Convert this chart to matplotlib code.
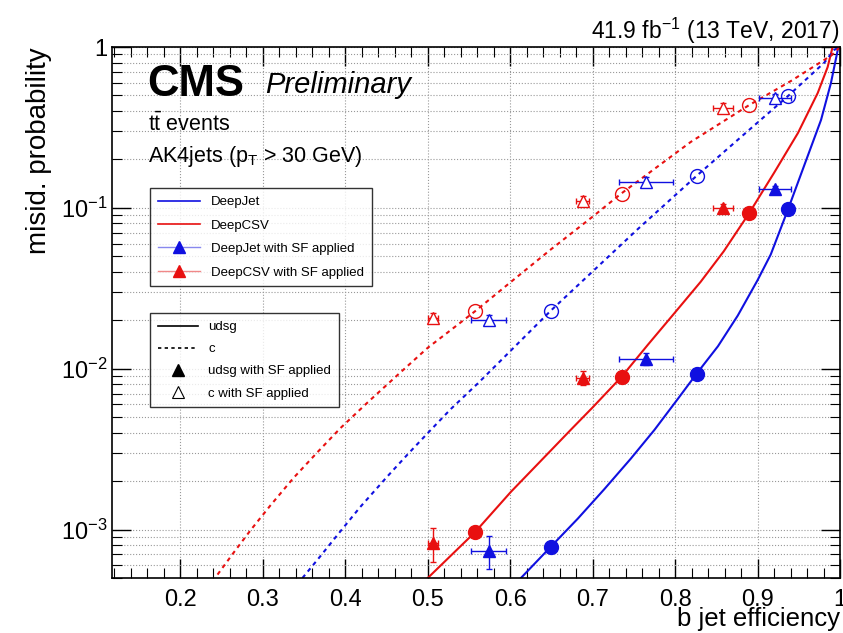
import matplotlib
matplotlib.use("Agg")
import matplotlib.pyplot as plt
import numpy as np
from matplotlib.lines import Line2D
from matplotlib.ticker import FixedLocator, FuncFormatter, MultipleLocator

plt.rcParams['font.family'] = ['Liberation Sans', 'DejaVu Sans']
plt.rcParams['mathtext.fontset'] = 'custom'
plt.rcParams['mathtext.rm'] = 'Liberation Sans'
plt.rcParams['mathtext.it'] = 'Liberation Sans:italic'

# ROC curves (b eff, misid prob)
dj_udsg_x = [0.613, 0.649, 0.682, 0.714, 0.746, 0.775, 0.803, 0.826, 0.852, 0.876, 0.900,
             0.916, 0.937, 0.956, 0.977, 0.989, 0.998]
dj_udsg_y = [5.0e-4, 7.8e-4, 1.17e-3, 1.78e-3, 2.75e-3, 4.17e-3, 6.46e-3, 9.3e-3, 0.0138, 0.0214,
             0.0355, 0.0513, 0.098, 0.18, 0.352, 0.597, 1.0]
csv_udsg_x = [0.500, 0.557, 0.601, 0.637, 0.674, 0.700, 0.735, 0.767, 0.799, 0.831, 0.859,
              0.890, 0.920, 0.949, 0.973, 0.985, 0.991]
csv_udsg_y = [5.0e-4, 9.6e-4, 1.72e-3, 2.67e-3, 4.2e-3, 5.75e-3, 8.9e-3, 0.0141, 0.0221, 0.0347,
              0.0537, 0.093, 0.165, 0.292, 0.518, 0.75, 1.0]
dj_c_x = [0.348, 0.369, 0.390, 0.418, 0.451, 0.476, 0.500, 0.528, 0.561, 0.592, 0.649, 0.701,
          0.755, 0.826, 0.880, 0.937, 0.981, 0.993, 1.0]
dj_c_y = [5.0e-4, 6.76e-4, 9.2e-4, 1.38e-3, 2.14e-3, 2.95e-3, 3.98e-3, 5.62e-3, 8.13e-3, 0.0117,
          0.0229, 0.0407, 0.074, 0.158, 0.276, 0.496, 0.8, 0.96, 1.0]
csv_c_x = [0.245, 0.265, 0.285, 0.309, 0.337, 0.366, 0.394, 0.427, 0.464, 0.500, 0.528, 0.558,
           0.601, 0.649, 0.701, 0.734, 0.819, 0.890, 0.941, 0.990, 1.0]
csv_c_y = [5.25e-4, 7.24e-4, 9.9e-4, 1.41e-3, 2.09e-3, 3.02e-3, 4.27e-3, 6.17e-3, 9.2e-3, 0.0135,
           0.0174, 0.0229, 0.0347, 0.055, 0.089, 0.122, 0.257, 0.436, 0.617, 0.89, 1.0]

# working points (circles)
dj_wp_eff = [0.649, 0.826, 0.937]
dj_wp_udsg = [7.8e-4, 9.3e-3, 0.098]
dj_wp_c = [0.0229, 0.158, 0.496]
csv_wp_eff = [0.557, 0.735, 0.890]
csv_wp_udsg = [9.6e-4, 8.9e-3, 0.093]
csv_wp_c = [0.0229, 0.122, 0.436]

# with SF applied (triangles)
dj_sf_eff = [0.574, 0.765, 0.921]
dj_sf_efferr = [0.021, 0.033, 0.019]
dj_sf_udsg = [7.4e-4, 0.0115, 0.131]
dj_sf_udsg_err = [1.7e-4, 0.001, 0.006]
dj_sf_c = [0.0202, 0.145, 0.482]
dj_sf_c_err = [0.0015, 0.01, 0.03]
csv_sf_eff = [0.506, 0.688, 0.858]
csv_sf_efferr = [0.006, 0.008, 0.012]
csv_sf_udsg = [8.3e-4, 0.0088, 0.100]
csv_sf_udsg_err = [2.0e-4, 0.0009, 0.005]
csv_sf_c = [0.0207, 0.111, 0.418]
csv_sf_c_err = [0.0015, 0.008, 0.03]

blue = '#1010e0'
red = '#e81010'

fig = plt.figure(figsize=(8.43, 6.33), dpi=100)
ax = fig.add_axes([112/843, 1-578/633, 728/843, 531/633])

ax.plot(dj_udsg_x, dj_udsg_y, color=blue, lw=1.5)
ax.plot(csv_udsg_x, csv_udsg_y, color=red, lw=1.5)
ax.plot(dj_c_x, dj_c_y, color=blue, lw=1.5, ls=(0, (2, 2)))
ax.plot(csv_c_x, csv_c_y, color=red, lw=1.5, ls=(0, (2, 2)))

ax.plot(dj_wp_eff, dj_wp_udsg, 'o', color=blue, ms=10)
ax.plot(csv_wp_eff, csv_wp_udsg, 'o', color=red, ms=10)
ax.plot(dj_wp_eff, dj_wp_c, 'o', mfc='none', mec=blue, ms=10, mew=1)
ax.plot(csv_wp_eff, csv_wp_c, 'o', mfc='none', mec=red, ms=10, mew=1)

ax.errorbar(dj_sf_eff, dj_sf_udsg, xerr=dj_sf_efferr, yerr=dj_sf_udsg_err, fmt='^', color=blue,
            ms=9, elinewidth=1, capsize=2)
ax.errorbar(csv_sf_eff, csv_sf_udsg, xerr=csv_sf_efferr, yerr=csv_sf_udsg_err, fmt='^', color=red,
            ms=9, elinewidth=1, capsize=2)
ax.errorbar(dj_sf_eff, dj_sf_c, xerr=dj_sf_efferr, yerr=dj_sf_c_err, fmt='^', color=blue,
            mfc='white', ms=9, mew=1, elinewidth=1, capsize=2)
ax.errorbar(csv_sf_eff, csv_sf_c, xerr=csv_sf_efferr, yerr=csv_sf_c_err, fmt='^', color=red,
            mfc='white', ms=9, mew=1, elinewidth=1, capsize=2)

ax.set_yscale('log')
ax.set_xlim(0.117, 1.0)
ax.set_ylim(5e-4, 1.0)

ax.xaxis.set_major_locator(MultipleLocator(0.1))
ax.xaxis.set_minor_locator(MultipleLocator(0.02))
ax.xaxis.set_major_formatter(FuncFormatter(lambda v, p: '1' if abs(v-1) < 1e-6 else '%.1f' % v))
ax.yaxis.set_major_locator(FixedLocator([1e-3, 1e-2, 1e-1, 1]))
ax.yaxis.set_minor_locator(FixedLocator([m*10.0**e for e in (-4, -3, -2, -1) for m in range(2, 10)]))
ax.yaxis.set_major_formatter(FuncFormatter(lambda v, p: '1' if v == 1 else r'$10^{%d}$' % round(np.log10(v))))
ax.tick_params(which='both', direction='in', top=True, right=True, labelsize=17)
ax.tick_params(which='major', length=14, width=1)
ax.tick_params(which='minor', length=7, width=0.8)
ax.tick_params(axis='x', pad=8)

ax.grid(True, which='major', color='#999999', ls=':', lw=0.8)
ax.grid(True, which='minor', axis='y', color='#999999', ls=':', lw=0.8)
for s in ax.spines.values():
    s.set_linewidth(1.2)

ax.set_xlabel('b jet efficiency', fontsize=18.5, loc='right', labelpad=-3)
ax.set_ylabel('misid. probability', fontsize=20, loc='top', labelpad=6)
ax.set_title(r'41.9 fb$^{-1}$ (13 TeV, 2017)', fontsize=16.5, loc='right', pad=6)

ax.text(0.049, 0.930, 'CMS', transform=ax.transAxes, fontsize=31.5, fontweight='bold', va='center')
ax.text(0.21, 0.928, 'Preliminary', transform=ax.transAxes, fontsize=21, style='italic', va='center')
ax.text(0.049, 0.855, r'$\mathrm{t}\bar{\mathrm{t}}$ events', transform=ax.transAxes, fontsize=15.5, va='center')
ax.text(0.049, 0.793, r'AK4jets (p$_\mathrm{T}$ > 30 GeV)', transform=ax.transAxes, fontsize=15.5, va='center')

h1 = [Line2D([], [], color=blue, lw=1.2),
      Line2D([], [], color=red, lw=1.2),
      Line2D([], [], color='#8888ee', lw=1, marker='^', mfc=blue, mec=blue, ms=8),
      Line2D([], [], color='#f08888', lw=1, marker='^', mfc=red, mec=red, ms=8)]
leg1 = ax.legend(h1, ['DeepJet', 'DeepCSV', 'DeepJet with SF applied', 'DeepCSV with SF applied'],
                 loc='upper left', bbox_to_anchor=(38/728, 1-141/531), fontsize=9.5,
                 frameon=True, fancybox=False, edgecolor='black', borderpad=0.6,
                 borderaxespad=0, labelspacing=0.85, handlelength=3.2)
leg1.get_frame().set_linewidth(1)
ax.add_artist(leg1)

h2 = [Line2D([], [], color='black', lw=1.2),
      Line2D([], [], color='black', lw=1.2, ls=(0, (2, 2))),
      Line2D([], [], color='black', lw=0, marker='^', ms=8),
      Line2D([], [], color='black', lw=0, marker='^', mfc='white', ms=8, mew=0.8)]
leg2 = ax.legend(h2, ['udsg', 'c', 'udsg with SF applied', 'c with SF applied'],
                 loc='upper left', bbox_to_anchor=(38/728, 1-266/531), fontsize=9.5,
                 frameon=True, fancybox=False, edgecolor='black', borderpad=0.6,
                 borderaxespad=0, labelspacing=0.75, handlelength=3.0)
leg2.get_frame().set_linewidth(1)

fig.savefig('out.png', dpi=100)
